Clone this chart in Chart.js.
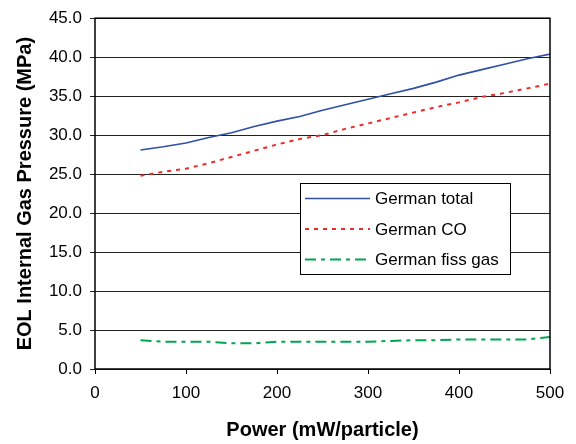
<!DOCTYPE html>
<html>
<head>
<meta charset="utf-8">
<style>
  html, body { margin: 0; padding: 0; background: #fff; }
  #wrap { width: 576px; height: 444px; }
</style>
<script src="https://cdn.jsdelivr.net/npm/chart.js@4/dist/chart.umd.min.js"></script>
</head>
<body>
<div id="wrap"><canvas id="myChart" width="576" height="444"></canvas></div>
<script>
// power (mW/particle)
const power = [50, 75, 100, 125, 150, 175, 200, 225, 250, 275, 300, 325, 350, 375, 400, 425, 450, 475, 500];

// EOL internal gas pressure (MPa)
const germanTotal = [28.1, 28.5, 29.0, 29.7, 30.3, 31.1, 31.8, 32.4, 33.2, 33.9, 34.6, 35.3, 36.0, 36.8, 37.7, 38.4, 39.1, 39.8, 40.4];
const germanCO = [24.8, 25.3, 25.7, 26.4, 27.2, 28.0, 28.8, 29.5, 30.0, 30.8, 31.5, 32.2, 32.9, 33.6, 34.2, 34.9, 35.4, 36.0, 36.6];
const germanFiss = [3.7, 3.5, 3.5, 3.5, 3.3, 3.3, 3.5, 3.5, 3.5, 3.5, 3.5, 3.6, 3.7, 3.7, 3.8, 3.8, 3.8, 3.8, 4.1];

const seriesNames = ['German total', 'German CO', 'German fiss gas'];
const xTicks = [0, 100, 200, 300, 400, 500];

const FONT = '"Liberation Sans", Arial, Helvetica, sans-serif';

const toPoints = (ys) => power.map((x, i) => ({ x: x, y: ys[i] }));

/* 플롯 테두리 + 범례 박스 */
const framePlugin = {
  id: 'frame',
  afterDatasetsDraw(chart) {
    const { ctx, chartArea: a } = chart;
    ctx.save();
    ctx.strokeStyle = '#000';
    ctx.lineWidth = 1.5;
    ctx.strokeRect(a.left, a.top, a.right - a.left, a.bottom - a.top);

    // legend
    const bx = 300.5, by = 183.5, bw = 210, bh = 91;
    ctx.fillStyle = '#fff';
    ctx.fillRect(bx, by, bw, bh);
    ctx.lineWidth = 1;
    ctx.strokeRect(bx, by, bw, bh);
    ctx.font = '17px ' + FONT;
    ctx.textBaseline = 'middle';
    ctx.textAlign = 'left';
    chart.data.datasets.forEach((ds, i) => {
      const y = 198.5 + i * 30.5;
      ctx.beginPath();
      ctx.strokeStyle = ds.borderColor;
      ctx.lineWidth = ds.borderWidth;
      ctx.setLineDash(ds.borderDash || []);
      ctx.moveTo(305, y);
      ctx.lineTo(370, y);
      ctx.stroke();
      ctx.setLineDash([]);
      ctx.fillStyle = '#000';
      ctx.fillText(ds.label, 375, y + 1);
    });
    ctx.restore();
  },
};

const data = {
  datasets: [
    {
      label: seriesNames[0],
      data: toPoints(germanTotal),
      borderColor: '#3050a8',
      borderWidth: 1.6,
    },
    {
      label: seriesNames[1],
      data: toPoints(germanCO),
      borderColor: '#ee2a2a',
      borderWidth: 2,
      borderDash: [4, 5],
    },
    {
      label: seriesNames[2],
      data: toPoints(germanFiss),
      borderColor: '#00a650',
      borderWidth: 2,
      borderDash: [11, 5, 4, 5],
    },
  ],
};

const config = {
  type: 'line',
  data: data,
  options: {
    responsive: false,
    animation: false,
    events: [],
    elements: { point: { radius: 0 }, line: { tension: 0 } },
    layout: { autoPadding: false, padding: { left: 0, right: 26, top: 14, bottom: 0 } },
    plugins: { legend: { display: false }, tooltip: { enabled: false } },
    scales: {
      x: {
        type: 'linear',
        min: 0,
        max: 500,
        afterFit: (s) => { s.height = 75; },
        afterBuildTicks: (s) => { s.ticks = xTicks.map((v) => ({ value: v })); },
        grid: { drawOnChartArea: false, drawTicks: true, tickLength: 5, color: '#000', lineWidth: 1 },
        border: { display: false },
        ticks: { color: '#000', padding: 9, maxRotation: 0, font: { family: FONT, size: 17 } },
        title: {
          display: true,
          text: 'Power (mW/particle)',
          color: '#000',
          font: { family: FONT, size: 20, weight: 'bold' },
          padding: { top: 0, bottom: 2 },
        },
      },
      y: {
        min: 0,
        max: 45,
        afterFit: (s) => { s.width = 95; },
        grid: { drawTicks: true, tickLength: 5, color: '#222', lineWidth: 1 },
        border: { display: false },
        ticks: {
          stepSize: 5,
          color: '#000',
          padding: 8,
          font: { family: FONT, size: 17 },
          callback: (v) => v.toFixed(1),
        },
        title: {
          display: true,
          text: 'EOL Internal Gas Pressure (MPa)',
          color: '#000',
          font: { family: FONT, size: 20, weight: 'bold' },
          padding: { top: 13, bottom: 0 },
        },
      },
    },
  },
  plugins: [framePlugin],
};

new Chart(document.querySelector('#myChart'), config);
</script>
</body>
</html>
